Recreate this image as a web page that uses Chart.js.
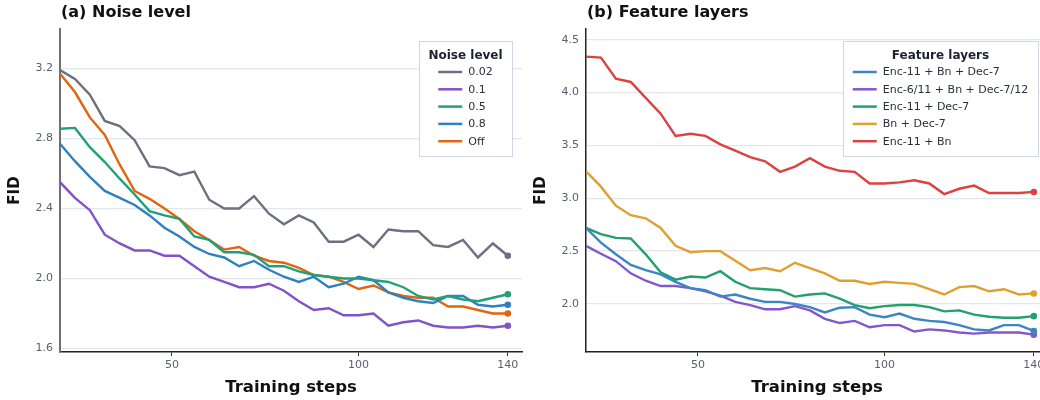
<!DOCTYPE html>
<html>
<head>
<meta charset="utf-8">
<script src="https://cdn.jsdelivr.net/npm/chart.js@4"></script>
<style>
  html, body { margin: 0; padding: 0; background: #fff; overflow: hidden; }
  body { width: 1040px; height: 400px; position: relative; }
  canvas { position: absolute; top: 0; }
</style>
</head>
<body>
<canvas id="chartA" width="526" height="400" style="left:0"></canvas>
<canvas id="chartB" width="526" height="400" style="left:526px"></canvas>
<script>
// training steps (x), sampled every 4 steps
const steps = [20,24,28,32,36,40,44,48,52,56,60,64,68,72,76,80,84,88,92,96,100,104,108,112,116,120,124,128,132,136,140];

// (a) Noise level
const noise002 = [3.19,3.14,3.05,2.90,2.87,2.79,2.64,2.63,2.59,2.61,2.45,2.40,2.40,2.47,2.37,2.31,2.36,2.32,2.21,2.21,2.25,2.18,2.28,2.27,2.27,2.19,2.18,2.22,2.12,2.20,2.13];
const noise01  = [2.55,2.46,2.39,2.25,2.20,2.16,2.16,2.13,2.13,2.07,2.01,1.98,1.95,1.95,1.97,1.93,1.87,1.82,1.83,1.79,1.79,1.80,1.73,1.75,1.76,1.73,1.72,1.72,1.73,1.72,1.73];
const noise05  = [2.855,2.86,2.75,2.665,2.57,2.48,2.385,2.36,2.34,2.24,2.22,2.15,2.15,2.135,2.07,2.07,2.04,2.02,2.01,2.00,2.00,1.99,1.98,1.95,1.90,1.88,1.90,1.88,1.87,1.89,1.91];
const noise08  = [2.77,2.67,2.58,2.50,2.46,2.42,2.36,2.29,2.24,2.18,2.14,2.12,2.07,2.10,2.05,2.01,1.98,2.01,1.95,1.97,2.01,1.99,1.92,1.89,1.87,1.86,1.90,1.90,1.85,1.84,1.85];
const noiseOff = [3.17,3.065,2.92,2.82,2.65,2.50,2.455,2.40,2.34,2.27,2.22,2.165,2.18,2.13,2.10,2.09,2.06,2.02,2.01,1.98,1.94,1.96,1.92,1.90,1.89,1.89,1.84,1.84,1.82,1.80,1.80];

// (b) Feature layers
const featEncBnDec   = [2.72,2.58,2.47,2.37,2.32,2.28,2.21,2.15,2.13,2.07,2.09,2.05,2.02,2.02,2.00,1.97,1.92,1.965,1.97,1.90,1.875,1.91,1.86,1.84,1.83,1.80,1.76,1.75,1.80,1.80,1.745];
const featEnc6BnDec7 = [2.55,2.475,2.405,2.29,2.22,2.17,2.17,2.15,2.12,2.08,2.02,1.99,1.95,1.95,1.98,1.94,1.86,1.82,1.84,1.78,1.80,1.80,1.74,1.76,1.75,1.73,1.72,1.73,1.73,1.73,1.71];
const featEncDec     = [2.72,2.66,2.625,2.62,2.47,2.30,2.23,2.26,2.25,2.31,2.21,2.15,2.14,2.13,2.07,2.09,2.10,2.05,1.99,1.96,1.98,1.99,1.99,1.97,1.93,1.94,1.90,1.88,1.87,1.87,1.885];
const featBnDec      = [3.255,3.11,2.93,2.84,2.81,2.72,2.55,2.49,2.50,2.50,2.41,2.32,2.34,2.31,2.39,2.34,2.29,2.22,2.22,2.19,2.21,2.20,2.19,2.14,2.09,2.16,2.17,2.12,2.14,2.09,2.10];
const featEncBn      = [4.34,4.33,4.13,4.10,3.95,3.80,3.59,3.61,3.59,3.51,3.45,3.39,3.35,3.25,3.30,3.38,3.30,3.26,3.25,3.14,3.14,3.15,3.17,3.14,3.04,3.09,3.12,3.05,3.05,3.05,3.06];

// axis ticks
const xTicks = [50, 100, 140];
const yTicksA = [1.6, 2.0, 2.4, 2.8, 3.2];
const yTicksB = [2.0, 2.5, 3.0, 3.5, 4.0, 4.5];

const FONT = '"DejaVu Sans", "Noto Sans", sans-serif';

// panel heading drawn above the plot area
const panelTitle = {
  id: 'panelTitle',
  afterDraw(chart, args, opts) {
    const ctx = chart.ctx;
    ctx.save();
    ctx.font = 'bold 16px ' + FONT;
    ctx.fillStyle = '#111';
    ctx.textAlign = 'left';
    ctx.textBaseline = 'middle';
    ctx.fillText(opts.text, chart.chartArea.left + 1, 13);
    ctx.restore();
  }
};

// boxed legend with a title, top right of the plot
const boxLegend = {
  id: 'boxLegend',
  afterDatasetsDraw(chart, args, opts) {
    const ctx = chart.ctx;
    const sets = chart.data.datasets;
    ctx.save();
    ctx.font = 'bold 12px ' + FONT;
    const titleW = ctx.measureText(opts.title).width;
    ctx.font = '11px ' + FONT;
    const labelW = Math.max(...sets.map(d => ctx.measureText(d.label).width));
    const itemsW = 24 + 6 + labelW;
    const w = Math.round(Math.max(titleW, itemsW) + 19);
    const h = 115;
    const right = chart.chartArea.right - 10;
    const left = right - w;
    const top = Math.round(chart.chartArea.top + 12);
    ctx.fillStyle = '#fff';
    ctx.fillRect(left, top, w, h);
    ctx.strokeStyle = '#cfd6e4';
    ctx.lineWidth = 1;
    ctx.strokeRect(left + 0.5, top + 0.5, w, h);
    const cx = left + w / 2;
    ctx.fillStyle = '#1c2030';
    ctx.font = 'bold 12px ' + FONT;
    ctx.textAlign = 'center';
    ctx.textBaseline = 'middle';
    ctx.fillText(opts.title, cx, top + 14.5);
    const x0 = cx - itemsW / 2;
    ctx.font = '11px ' + FONT;
    ctx.textAlign = 'left';
    sets.forEach((d, i) => {
      const y = top + 31 + i * 17.3;
      ctx.strokeStyle = d.borderColor;
      ctx.lineWidth = 2.5;
      ctx.beginPath();
      ctx.moveTo(x0, y);
      ctx.lineTo(x0 + 24, y);
      ctx.stroke();
      ctx.fillStyle = '#2a2e3a';
      ctx.fillText(d.label, x0 + 30, y + 0.5);
    });
    ctx.restore();
  }
};

function makeLine(label, values, color) {
  const last = values.length - 1;
  return {
    label: label,
    data: steps.map((s, i) => ({ x: s, y: values[i] })),
    borderColor: color,
    backgroundColor: color,
    borderWidth: 2.4,
    tension: 0,
    pointRadius: ctx => ctx.dataIndex === last ? 3.3 : 0,
    pointBorderWidth: 0,
    pointHoverRadius: 0
  };
}

function makePanel(id, title, legendTitle, datasets, yMin, yMax, yTicks, leftSpine) {
  return new Chart(document.getElementById(id), {
    type: 'line',
    data: { datasets: datasets },
    plugins: [panelTitle, boxLegend],
    options: {
      responsive: false,
      animation: false,
      devicePixelRatio: 1,
      layout: { padding: { top: 29, right: 4, bottom: 0, left: 0 } },
      plugins: {
        legend: { display: false },
        tooltip: { enabled: false },
        panelTitle: { text: title },
        boxLegend: { title: legendTitle }
      },
      scales: {
        x: {
          type: 'linear',
          min: 20,
          max: 143.8,
          afterBuildTicks: s => { s.ticks = xTicks.map(v => ({ value: v })); },
          afterFit: s => { s.height = 48; },
          grid: { drawOnChartArea: false, drawTicks: true, tickLength: 4, tickColor: '#333', tickWidth: 1 },
          border: { display: true, color: '#222', width: 1.5 },
          ticks: { color: '#5a6070', font: { family: FONT, size: 11 }, padding: 3, maxRotation: 0 },
          title: { display: true, text: 'Training steps', color: '#111',
                   font: { family: FONT, size: 16.5, weight: 'bold' }, padding: { top: 0, bottom: 2 } }
        },
        y: {
          min: yMin,
          max: yMax,
          afterBuildTicks: s => { s.ticks = yTicks.map(v => ({ value: v })); },
          afterFit: s => { s.width = 60; },
          grid: { color: '#e4e6ee', lineWidth: 1.3, drawTicks: false },
          border: { display: true, color: leftSpine, width: leftSpine === '#222' ? 1.5 : 2 },
          ticks: { color: '#5a6070', font: { family: FONT, size: 11 }, padding: 7,
                   callback: v => v.toFixed(1) },
          title: { display: true, text: 'FID', color: '#111',
                   font: { family: FONT, size: 15, weight: 'bold' }, padding: { top: 6, bottom: 0 } }
        }
      }
    }
  });
}

makePanel('chartA', '(a) Noise level', 'Noise level', [
  makeLine('0.02', noise002, '#6c7080'),
  makeLine('0.1', noise01, '#8352c8'),
  makeLine('0.5', noise05, '#21a078'),
  makeLine('0.8', noise08, '#2e80c0'),
  makeLine('Off', noiseOff, '#e0650f')
], 1.58, 3.425, yTicksA, '#707070');

makePanel('chartB', '(b) Feature layers', 'Feature layers', [
  makeLine('Enc-11 + Bn + Dec-7', featEncBnDec, '#3a86c5'),
  makeLine('Enc-6/11 + Bn + Dec-7/12', featEnc6BnDec7, '#8456cb'),
  makeLine('Enc-11 + Dec-7', featEncDec, '#22a06e'),
  makeLine('Bn + Dec-7', featBnDec, '#e0a030'),
  makeLine('Enc-11 + Bn', featEncBn, '#dc4242')
], 1.546, 4.601, yTicksB, '#222');
</script>
</body>
</html>
